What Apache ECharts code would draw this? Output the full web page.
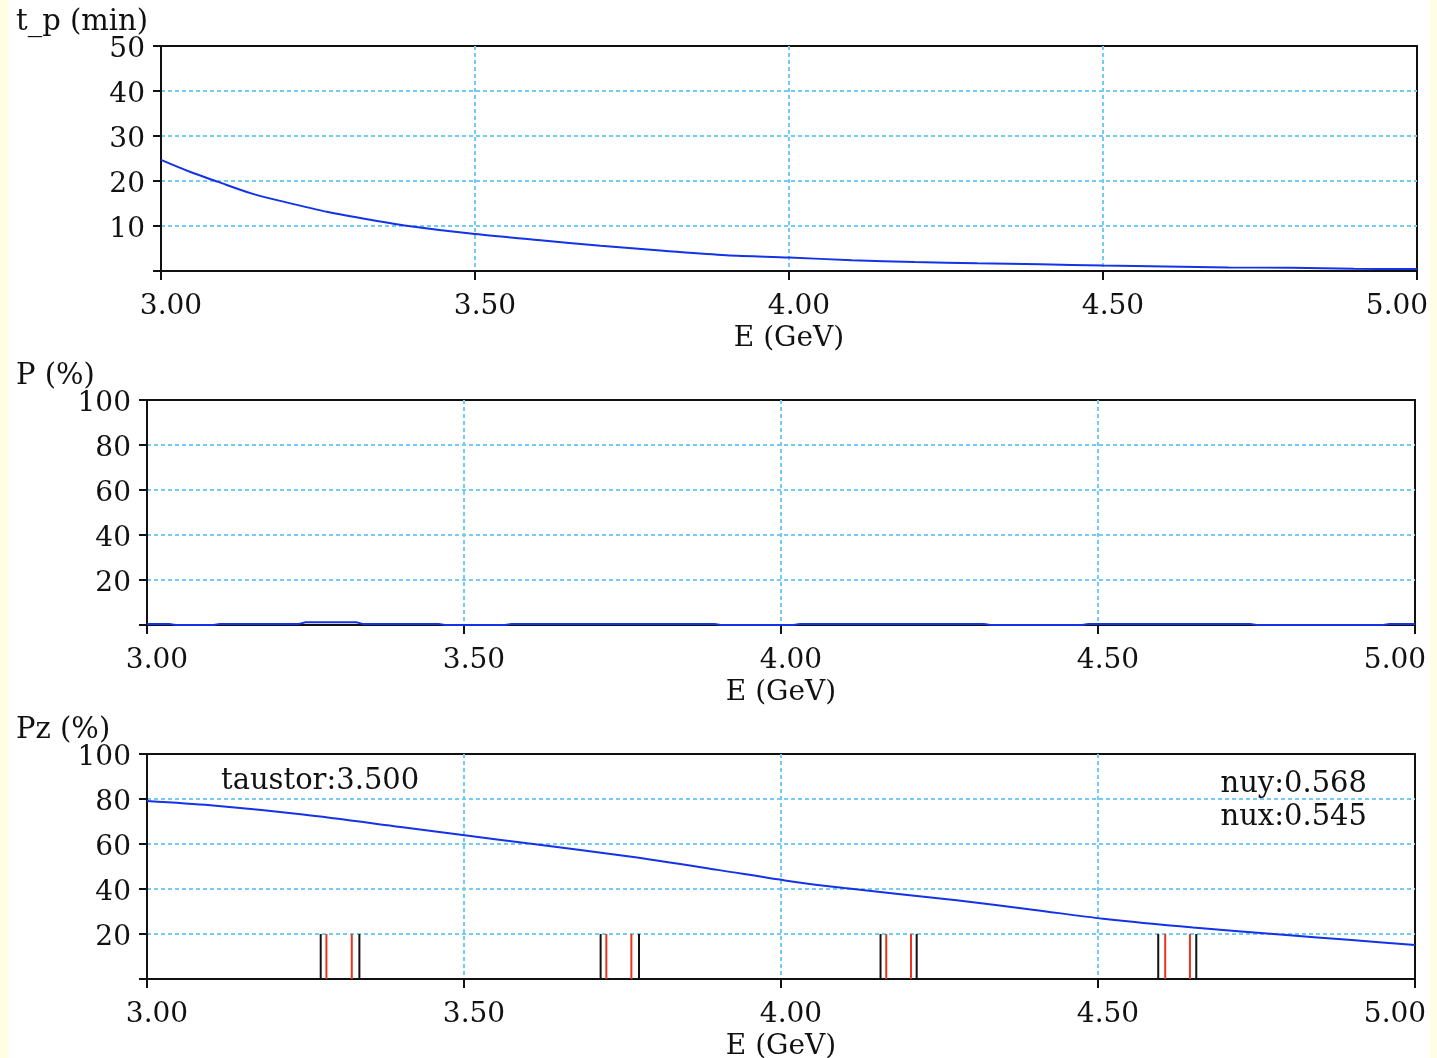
<!DOCTYPE html>
<html>
<head>
<meta charset="utf-8">
<title>Polarization vs energy</title>
<script src="https://cdn.jsdelivr.net/npm/echarts@6.0.0/dist/echarts.min.js"></script>
<style>
  html, body { margin: 0; padding: 0; background: #fffde3; }
  #chart { position: absolute; left: 8px; top: 0; width: 1422px; height: 1058px; background: #ffffff; }
</style>
</head>
<body>
<div id="chart"></div>
<script>
  // t_p (min) vs E
  var tpEnergy = [3.00, 3.047, 3.091, 3.145, 3.198, 3.266, 3.333, 3.40, 3.50, 3.60, 3.70, 3.80, 3.90, 4.00, 4.10, 4.20, 4.30, 4.40, 4.50, 4.60, 4.70, 4.80, 4.90, 5.00];
  var tpValue = [24.7, 22.0, 19.8, 17.2, 15.3, 13.1, 11.4, 9.9, 8.2, 6.9, 5.6, 4.5, 3.5, 3.0, 2.4, 2.0, 1.7, 1.5, 1.2, 1.0, 0.8, 0.7, 0.5, 0.45];

  // P (%) vs E
  var pEnergy = [3.00, 3.035, 3.045, 3.105, 3.115, 3.24, 3.25, 3.33, 3.34, 3.46, 3.47, 3.565, 3.575, 3.895, 3.905, 4.02, 4.03, 4.32, 4.33, 4.475, 4.485, 4.74, 4.75, 4.95, 4.96, 5.00];
  var pValue = [0.5, 0.5, 0, 0, 0.5, 0.5, 1.2, 1.2, 0.5, 0.5, 0, 0, 0.5, 0.5, 0, 0, 0.5, 0.5, 0, 0, 0.5, 0.5, 0, 0, 0.5, 0.5];

  // Pz (%) vs E
  var pzEnergy = [3.0, 3.1, 3.246, 3.4, 3.504, 3.6, 3.761, 3.9, 4.006, 4.1, 4.277, 4.4, 4.508, 4.65, 4.792, 4.9, 5.0];
  var pzValue = [79.1, 77.2, 73.1, 67.6, 63.8, 60.3, 54.4, 48.5, 43.8, 40.4, 35.0, 30.7, 26.8, 22.9, 19.7, 17.3, 15.1];

  // resonance markers
  var blackRes = [3.274, 3.335, 3.7155, 3.776, 4.157, 4.214, 4.595, 4.655];
  var redRes = [3.283, 3.323, 3.7245, 3.764, 4.166, 4.205, 4.606, 4.645];
  var resHeight = 20;

  var xTicks = { min: 3, max: 5, interval: 0.5 };
  var panelTitles = ['t_p (min)', 'P (%)', 'Pz (%)'];

  var FONT = '"DejaVu Serif", serif';
  var TXT = '#111111';
  var GRIDBLUE = '#74ccf6';
  var LINEBLUE = '#1432e6';

  function pairs(xs, ys) {
    return xs.map(function (x, i) { return [x, ys[i]]; });
  }

  var gridLine = {
    show: true, showMinLine: false, showMaxLine: false,
    lineStyle: { color: GRIDBLUE, type: [4, 3], width: 2 }
  };

  function makeX(idx) {
    return {
      type: 'value',
      gridIndex: idx,
      min: xTicks.min,
      max: xTicks.max,
      interval: xTicks.interval,
      name: 'E (GeV)',
      nameLocation: 'middle',
      nameGap: 54,
      nameTextStyle: { fontFamily: FONT, fontSize: 28, color: TXT },
      axisLine: { lineStyle: { color: TXT, width: 2 } },
      axisTick: { show: true, length: 9, lineStyle: { color: TXT, width: 2 } },
      axisLabel: {
        margin: 22,
        padding: [0, 0, 0, 20],
        fontFamily: FONT, fontSize: 28, color: TXT,
        formatter: function (v) {
          // last label is pulled back inside the frame
          return v === xTicks.max ? '{e|' + v.toFixed(2) + '}' : v.toFixed(2);
        },
        rich: {
          e: { fontFamily: FONT, fontSize: 28, color: TXT, padding: [0, 60, 0, 0] }
        }
      },
      splitLine: gridLine
    };
  }

  function makeY(idx, max, step) {
    return {
      type: 'value',
      gridIndex: idx,
      min: 0,
      max: max,
      interval: step,
      axisLine: { show: true, lineStyle: { color: TXT, width: 2 } },
      axisTick: { show: true, length: 8, lineStyle: { color: TXT, width: 2 } },
      axisLabel: {
        margin: 16,
        verticalAlign: 'top',
        lineHeight: 8,
        fontFamily: FONT, fontSize: 28, color: TXT,
        formatter: function (v) { return v === 0 ? '' : String(v); }
      },
      splitLine: gridLine
    };
  }

  function resItem(color) {
    return function (params, api) {
      var e = api.value(0), h = api.value(1);
      var p0 = api.coord([e, 0]);
      var p1 = api.coord([e, h]);
      return {
        type: 'line',
        shape: { x1: p0[0], y1: p0[1], x2: p1[0], y2: p1[1] },
        style: { stroke: color, lineWidth: 2 }
      };
    };
  }

  function gridBox(left, right, top, height) {
    return {
      left: left, right: right, top: top, height: height,
      show: true, borderColor: TXT, borderWidth: 2,
      containLabel: false, outerBoundsMode: 'none'
    };
  }

  function label(text, x, y, align) {
    return {
      type: 'text', x: x, y: y,
      style: { text: text, font: '29px ' + FONT, fill: TXT, textAlign: align || 'left', textVerticalAlign: 'middle' }
    };
  }

  var lineBase = {
    type: 'line',
    smooth: 0.3,
    showSymbol: false,
    lineStyle: { color: LINEBLUE, width: 2 },
    itemStyle: { color: LINEBLUE },
    animation: false
  };

  var options = {
    animation: false,
    backgroundColor: '#ffffff',
    grid: [gridBox(153, 13, 46, 225), gridBox(139, 15, 400, 225), gridBox(139, 15, 754, 225)],
    xAxis: [makeX(0), makeX(1), makeX(2)],
    yAxis: [makeY(0, 50, 10), makeY(1, 100, 20), makeY(2, 100, 20)],
    graphic: [
      label(panelTitles[0], 8, 22),
      label(panelTitles[1], 8, 376),
      label(panelTitles[2], 8, 730),
      label('taustor:3.500', 213, 781),
      label('nuy:0.568', 1359, 784, 'right'),
      label('nux:0.545', 1359, 817, 'right')
    ],
    series: [
      Object.assign({}, lineBase, { xAxisIndex: 0, yAxisIndex: 0, data: pairs(tpEnergy, tpValue) }),
      Object.assign({}, lineBase, { xAxisIndex: 1, yAxisIndex: 1, smooth: false, data: pairs(pEnergy, pValue) }),
      Object.assign({}, lineBase, { xAxisIndex: 2, yAxisIndex: 2, data: pairs(pzEnergy, pzValue) }),
      {
        type: 'custom', xAxisIndex: 2, yAxisIndex: 2,
        renderItem: resItem('#111111'),
        data: blackRes.map(function (e) { return [e, resHeight]; })
      },
      {
        type: 'custom', xAxisIndex: 2, yAxisIndex: 2,
        renderItem: resItem('#e8341a'),
        data: redRes.map(function (e) { return [e, resHeight]; })
      }
    ]
  };

  var chart = echarts.init(document.getElementById('chart'));
  chart.setOption(options);
</script>
</body>
</html>
